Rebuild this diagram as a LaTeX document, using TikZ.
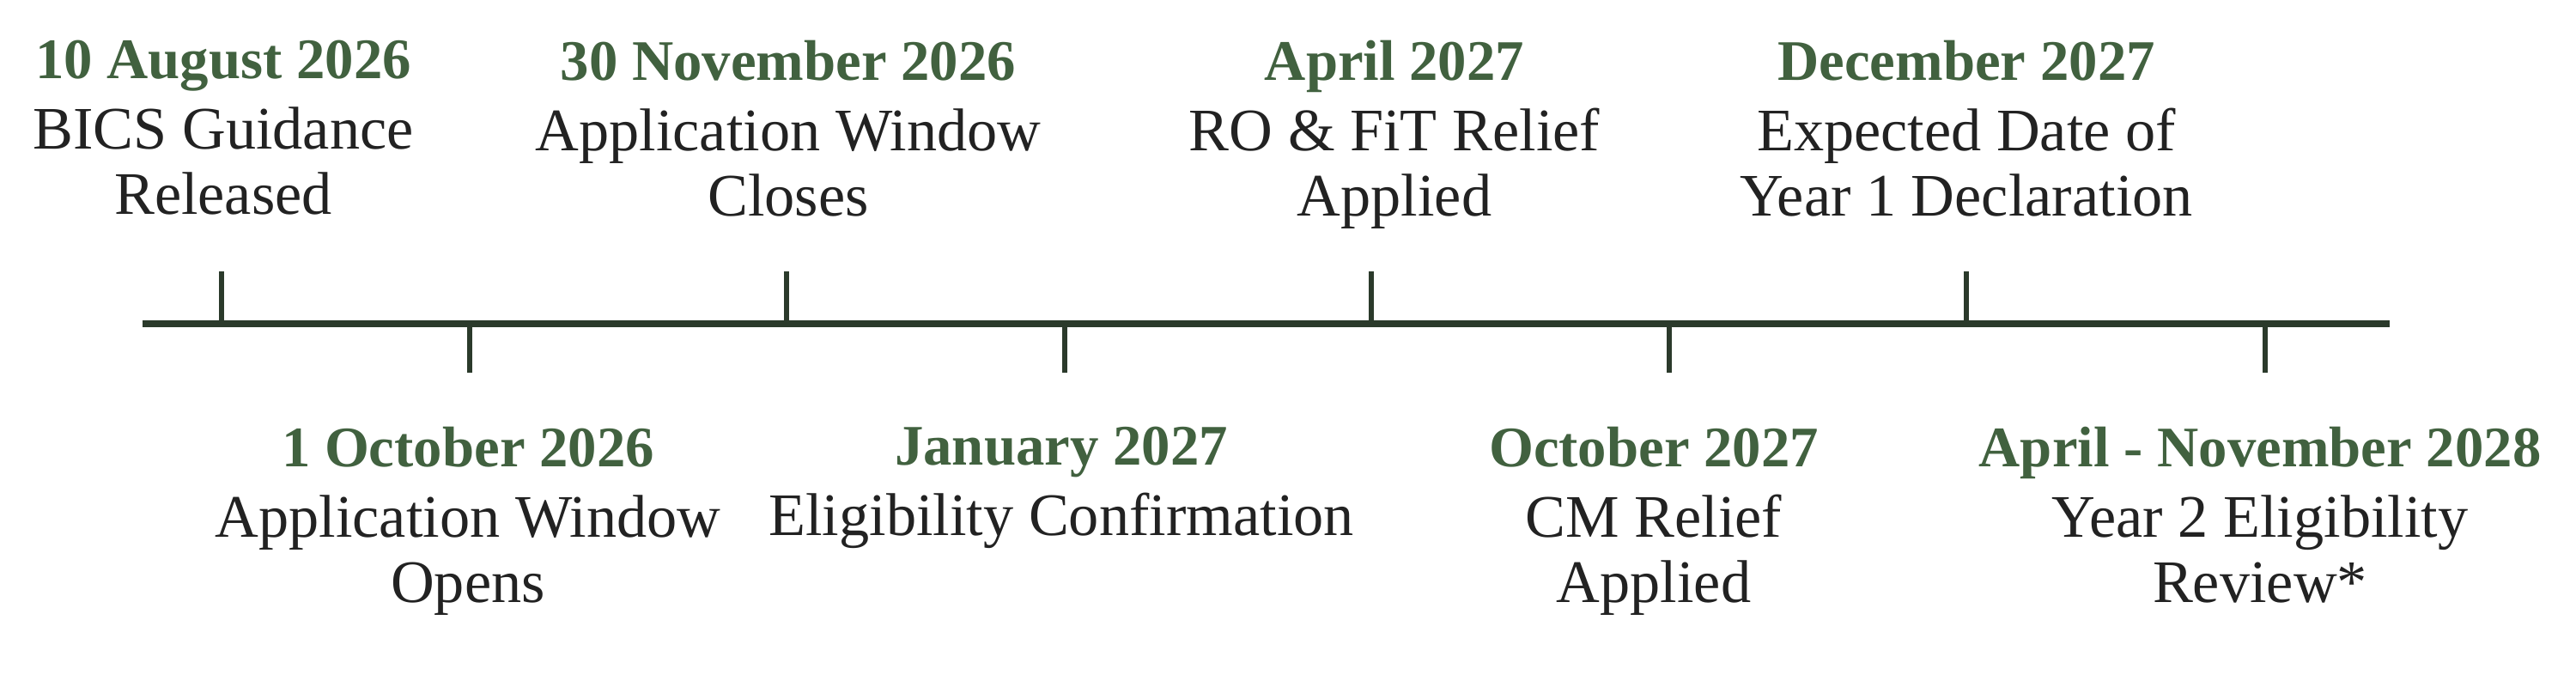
\documentclass[tikz,border=0pt]{standalone}
\usepackage{fontspec}
\setmainfont{Liberation Serif}
\definecolor{dategreen}{HTML}{41613F}
\definecolor{axisgreen}{HTML}{2B3A2B}
\definecolor{bodytext}{HTML}{222222}
\newcommand{\when}[1]{{\color{dategreen}\fontsize{19}{21.5}\selectfont\bfseries #1}}
\tikzset{
  event/.style={align=center, text=bodytext, inner sep=0pt, font=\fontsize{20}{21.5}\selectfont},
  axis/.style={axisgreen, line width=2.2pt},
  tickmark/.style={axisgreen, line width=1.6pt},
}
\begin{document}
\begin{tikzpicture}
  \useasboundingbox (0,0) rectangle (30,7.86); % page size
  \coordinate (start) at (1.66,4.09); % left end of timeline
  \coordinate (end) at (27.83,4.09); % right end of timeline
  \coordinate (top) at (0,4.70); % height of upper ticks
  \coordinate (bot) at (0,3.52); % depth of lower ticks
  % points on the timeline
  \coordinate (t1) at (2.58,4.09);
  \coordinate (t2) at (5.47,4.09);
  \coordinate (t3) at (9.16,4.09);
  \coordinate (t4) at (12.40,4.09);
  \coordinate (t5) at (15.97,4.09);
  \coordinate (t6) at (19.44,4.09);
  \coordinate (t7) at (22.90,4.09);
  \coordinate (t8) at (26.38,4.09);
  \draw [axis] (start) -- (end); % timeline
  \draw [tickmark] (t1) -- (t1 |- top);
  \draw [tickmark] (t2) -- (t2 |- bot);
  \draw [tickmark] (t3) -- (t3 |- top);
  \draw [tickmark] (t4) -- (t4 |- bot);
  \draw [tickmark] (t5) -- (t5 |- top);
  \draw [tickmark] (t6) -- (t6 |- bot);
  \draw [tickmark] (t7) -- (t7 |- top);
  \draw [tickmark] (t8) -- (t8 |- bot);
  % milestones above the line
  \node [event, anchor=north] (aug) at (2.60,7.40) {\when{10 August 2026}\\[2pt]BICS Guidance\\Released};
  \node [event, anchor=north] (nov) at (9.18,7.40) {\when{30 November 2026}\\[2pt]Application Window\\Closes};
  \node [event, anchor=north] (apr) at (16.24,7.40) {\when{April 2027}\\[2pt]RO \& FiT Relief\\Applied};
  \node [event, anchor=north] (dec) at (22.90,7.40) {\when{December 2027}\\[2pt]Expected Date of\\Year 1 Declaration};
  % milestones below the line
  \node [event, anchor=north] (oct) at (5.45,2.90) {\when{1 October 2026}\\[2pt]Application Window\\Opens};
  \node [event, anchor=north] (jan) at (12.36,2.90) {\when{January 2027}\\[2pt]Eligibility Confirmation};
  \node [event, anchor=north] (cm) at (19.26,2.90) {\when{October 2027}\\[2pt]CM Relief\\Applied};
  \node [event, anchor=north] (rev) at (26.32,2.90) {\when{April - November 2028}\\[2pt]Year 2 Eligibility\\Review*};
\end{tikzpicture}
\end{document}
